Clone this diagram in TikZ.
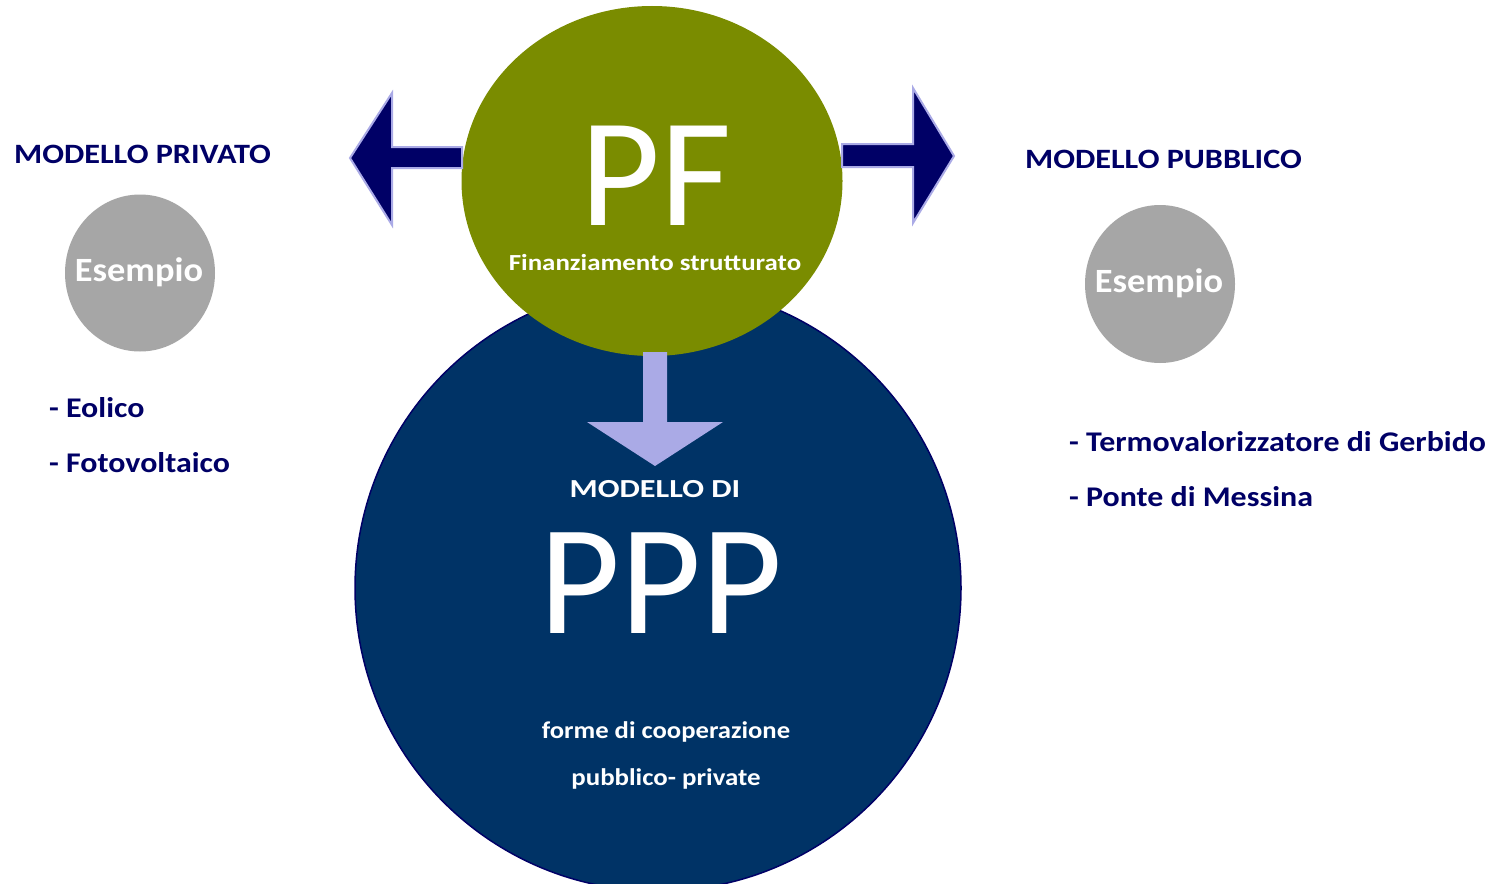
\documentclass[tikz,border=0pt]{standalone}
\usepackage{fontspec}
\setmainfont{Carlito}
\usetikzlibrary{shapes.geometric}
\definecolor{pfgreen}{RGB}{122,140,0}
\definecolor{pppblue}{RGB}{0,51,102}
\definecolor{navytext}{RGB}{0,0,102}
\definecolor{arrowfill}{RGB}{0,0,102}
\definecolor{arrowedge}{RGB}{170,170,230}
\definecolor{esgray}{RGB}{166,166,166}
\newcommand{\wide}[2]{\scalebox{#1}[1]{#2}}
\tikzset{
  blob/.style={ellipse, inner sep=0pt, draw=none},
  heading/.style={anchor=base west, inner sep=0pt, text=navytext, font=\fontsize{28}{30}\selectfont\bfseries},
  item/.style={anchor=base west, inner sep=0pt, text=navytext, font=\fontsize{28.5}{30}\selectfont\bfseries},
  esempio/.style={anchor=base, inner sep=0pt, text=white, font=\fontsize{34}{36}\selectfont\bfseries},
  whitebold/.style={anchor=base, inner sep=0pt, text=white, font=\bfseries},
  bigtxt/.style={anchor=base, inner sep=0pt, text=white, text depth=0pt},
  sidearrow/.style={fill=arrowfill, draw=arrowedge, line width=2pt, line join=miter},
  downarrow/.style={fill=arrowedge, draw=none}
}
\begin{document}
\begin{tikzpicture}[x=1pt,y=-1pt]
\useasboundingbox (0,0) rectangle (1501,883);
\fill[white] (0,0) rectangle (1501,883);
% big blue circle
\node[blob, fill=pppblue, draw=navytext, line width=1.5pt, minimum width=606pt, minimum height=606pt] (ppp) at (658,588) {};
% green ellipse
\node[blob, fill=pfgreen, minimum width=381pt, minimum height=350pt] (pf) at (652,181) {};
% gray circles
\node[blob, fill=esgray, minimum width=150pt, minimum height=157pt] (exl) at (140,273) {};
\node[blob, fill=esgray, minimum width=150pt, minimum height=158pt] (exr) at (1160,284) {};
% side arrows
\coordinate (la) at (462,157);
\coordinate (ra) at (842,156);
\draw[sidearrow] (la) ++(0,-10) -- (392,147) -- (392,93) -- (350,158) -- (392,225) -- (392,168) -- (462,168) -- cycle;
\draw[sidearrow] (ra) ++(0,-12) -- (913,144) -- (913,88) -- (954,156) -- (913,223) -- (913,167) -- (842,167) -- cycle;
% down arrow
\coordinate (da) at (655,352);
\fill[downarrow] (643,352) -- (667,352) -- (667,422) -- (723,422) -- (655,466) -- (587,422) -- (643,422) -- cycle;
% texts
\node[heading] (hpriv) at (14,163) {\wide{1.15}{MODELLO PRIVATO}};
\node[heading] (hpub) at (1025,168) {\wide{1.15}{MODELLO PUBBLICO}};
\node[esempio] (el) at (139,281) {\wide{1.07}{Esempio}};
\node[esempio] (er) at (1159,292) {\wide{1.07}{Esempio}};
\node[item] (i1) at (49,417) {\wide{1.12}{- Eolico}};
\node[item] (i2) at (49,472) {\wide{1.12}{- Fotovoltaico}};
\node[item] (i3) at (1069,451) {\wide{1.12}{- Termovalorizzatore di Gerbido}};
\node[item] (i4) at (1069,506) {\wide{1.12}{- Ponte di Messina}};
\node[bigtxt, font=\fontsize{155}{160}\selectfont] (pft) at (656,225) {PF};
\node[whitebold, text height=16pt, font=\fontsize{23}{25}\selectfont\bfseries] (fin) at (655,270) {\wide{1.17}{Finanziamento strutturato}};
\node[whitebold, font=\fontsize{26}{28}\selectfont\bfseries] (md) at (655,497) {\wide{1.24}{MODELLO DI}};
\node[bigtxt, font=\fontsize{157}{160}\selectfont] (pppt) at (661,633) {PPP};
\node[whitebold, font=\fontsize{24}{26}\selectfont\bfseries] (f1) at (666,738) {\wide{1.11}{forme di cooperazione}};
\node[whitebold, font=\fontsize{24}{26}\selectfont\bfseries] (f2) at (666,785) {\wide{1.12}{pubblico- private}};
\end{tikzpicture}
\end{document}
